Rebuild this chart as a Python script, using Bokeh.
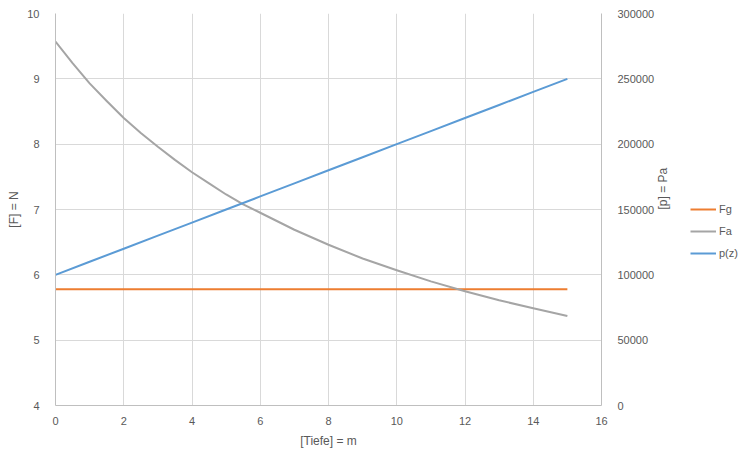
import math
from bokeh.plotting import figure
from bokeh.layouts import row
from bokeh.models import (Range1d, LinearAxis, SingleIntervalTicker, BasicTickFormatter,
                          Legend, LegendItem)
from bokeh.embed import file_html
from bokeh.resources import INLINE

# ---- data ----
depth = [0, 1, 2, 3, 4, 5, 6, 7, 8, 9, 10, 11, 12, 13, 14, 15]
Fg = [5.78, 5.78, 5.78, 5.78, 5.78, 5.78, 5.78, 5.78, 5.78, 5.78, 5.78, 5.78, 5.78, 5.78, 5.78, 5.78]
Fa_depth = [0, 0.5, 1, 1.5, 2, 2.5, 3, 3.5, 4, 4.5, 5, 5.5, 6, 7, 8, 9, 10, 11, 12, 13, 14, 15]
Fa = [9.57, 9.24, 8.93, 8.66, 8.40, 8.17, 7.96, 7.76, 7.57, 7.40, 7.23, 7.08, 6.95,
      6.69, 6.46, 6.25, 6.07, 5.90, 5.75, 5.61, 5.49, 5.37]
p_z = [100000, 110000, 120000, 130000, 140000, 150000, 160000, 170000,
       180000, 190000, 200000, 210000, 220000, 230000, 240000, 250000]
series_names = ["Fg", "Fa", "p(z)"]
x_title = "[Tiefe] = m"
y_title = "[F] = N"
y2_title = "[p] = Pa"

FONT = "Liberation Sans"
TXT = "#595959"
GRID = "#d9d9d9"
AXIS = "#bfbfbf"
COLORS = ["#ED7D31", "#A5A5A5", "#5B9BD5"]

p = figure(frame_width=546, frame_height=392,
           min_border_left=55, min_border_right=89, min_border_top=13, min_border_bottom=40,
           x_range=Range1d(0, 16), y_range=Range1d(4, 10),
           output_backend="svg", toolbar_location=None)
p.extra_y_ranges = {"p": Range1d(0, 300000)}
p.outline_line_color = None
p.background_fill_color = "white"
p.border_fill_color = "white"

r_fg = p.line(depth, Fg, line_color=COLORS[0], line_width=2)
r_fa = p.line(Fa_depth, Fa, line_color=COLORS[1], line_width=2, line_join="round")
r_p = p.line(depth, p_z, line_color=COLORS[2], line_width=2, y_range_name="p")

def style_axis(ax, standoff):
    ax.axis_line_color = AXIS
    ax.major_tick_line_color = None
    ax.minor_tick_line_color = None
    ax.major_label_text_font = FONT
    ax.major_label_text_font_size = "11px"
    ax.major_label_text_color = TXT
    ax.major_label_standoff = standoff
    ax.axis_label_text_font = FONT
    ax.axis_label_text_font_size = "12px"
    ax.axis_label_text_color = TXT
    ax.axis_label_text_font_style = "normal"

xa = p.xaxis[0]
xa.ticker = SingleIntervalTicker(interval=2, num_minor_ticks=0)
xa.axis_label = x_title
xa.axis_label_standoff = 6
style_axis(xa, 5)

ya = p.yaxis[0]
ya.ticker = SingleIntervalTicker(interval=1, num_minor_ticks=0)
ya.axis_label = y_title
ya.axis_label_standoff = 3
style_axis(ya, 10)

ya2 = LinearAxis(y_range_name="p", ticker=SingleIntervalTicker(interval=50000, num_minor_ticks=0),
                 formatter=BasicTickFormatter(use_scientific=False))
style_axis(ya2, 10)
ya2.axis_label = y2_title
ya2.axis_label_standoff = 6
if hasattr(ya2, "axis_label_orientation"):
    ya2.axis_label_orientation = math.pi / 2
p.add_layout(ya2, "right")

p.xgrid.ticker = SingleIntervalTicker(interval=2, num_minor_ticks=0)
p.ygrid.ticker = SingleIntervalTicker(interval=1, num_minor_ticks=0)
p.grid.grid_line_color = GRID
p.grid.grid_line_width = 1

# legend in a narrow companion figure to the right (its lines lie outside its view)
lg = figure(width=54, height=445, min_border=0, x_range=Range1d(100, 101), y_range=Range1d(100, 101),
            output_backend="svg", toolbar_location=None)
lg.axis.visible = False
lg.grid.visible = False
lg.outline_line_color = None
lg.border_fill_color = "white"
lg.background_fill_color = "white"
k_fg = lg.line(depth, Fg, line_color=COLORS[0], line_width=2)
k_fa = lg.line(Fa_depth, Fa, line_color=COLORS[1], line_width=2)
k_p = lg.line(depth, p_z, line_color=COLORS[2], line_width=2)
legend = Legend(items=[LegendItem(label=series_names[0], renderers=[k_fg]),
                       LegendItem(label=series_names[1], renderers=[k_fa]),
                       LegendItem(label=series_names[2], renderers=[k_p])],
                location=(0, 141), orientation="vertical",
                glyph_width=26, glyph_height=12, label_height=12, label_standoff=3,
                spacing=10, padding=0, margin=0,
                border_line_color=None, background_fill_alpha=0,
                label_text_font=FONT, label_text_font_size="11px", label_text_color=TXT)
lg.add_layout(legend, "center")

layout = row(p, lg)
open("out.html", "w").write(file_html(layout, INLINE))
